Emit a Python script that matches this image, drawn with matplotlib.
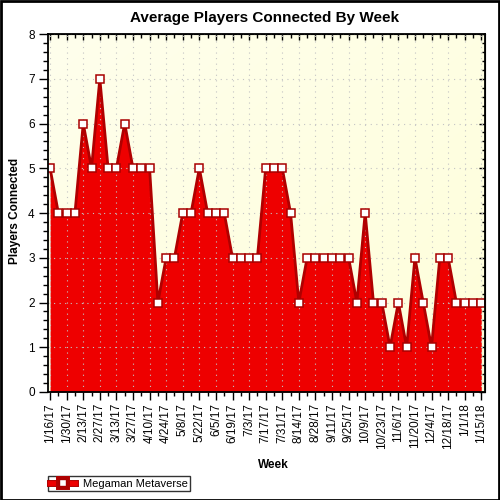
import matplotlib
matplotlib.use("Agg")
import matplotlib.pyplot as plt
import numpy as np
from matplotlib.lines import Line2D
import matplotlib.patheffects as pe
from matplotlib.ticker import MultipleLocator
from matplotlib.colors import LinearSegmentedColormap

plt.rcParams['font.family'] = ['Liberation Sans', 'DejaVu Sans']

tick_labels = ["1/16/17", "1/30/17", "2/13/17", "2/27/17", "3/13/17", "3/27/17", "4/10/17",
               "4/24/17", "5/8/17", "5/22/17", "6/5/17", "6/19/17", "7/3/17", "7/17/17",
               "7/31/17", "8/14/17", "8/28/17", "9/11/17", "9/25/17", "10/9/17", "10/23/17",
               "11/6/17", "11/20/17", "12/4/17", "12/18/17", "1/1/18", "1/15/18"]
players = [5, 4, 4, 4, 6, 5, 7, 5, 5, 6, 5, 5, 5, 2, 3, 3, 4, 4, 5, 4, 4, 4, 3, 3, 3, 3,
           5, 5, 5, 4, 2, 3, 3, 3, 3, 3, 3, 2, 4, 2, 2, 1, 2, 1, 3, 2, 1, 3, 3, 2, 2, 2, 2]
series_name = "Megaman Metaverse"

x = np.arange(len(players))
XMIN, XMAX = -0.25, 52.45

fig = plt.figure(figsize=(5, 5), dpi=100)
ax = fig.add_axes([0.096, 0.216, 0.874, 0.716])

# background gradient
yy, xx = np.mgrid[0:1:64j, 0:1:64j]
grad = (xx + (1 - yy)) / 2
bg = LinearSegmentedColormap.from_list("bg", ["#FEFEEC", "#FFFFDA"])
ax.imshow(grad, aspect='auto', cmap=bg, extent=[XMIN, XMAX, 0, 8], zorder=0,
          interpolation='bilinear', origin='lower')

ax.fill_between(x, players, 0, color="#EE0000", zorder=2, linewidth=0)
ax.plot(x, players, color="#B00000", linewidth=2, zorder=3)
ax.plot(x, players, linestyle='none', marker='s', markersize=5.3,
        markerfacecolor='white', markeredgecolor='#A80000', markeredgewidth=1.1, zorder=4)

ax.set_xlim(XMIN, XMAX)
ax.set_ylim(0, 8)
ax.set_xticks(x[::2])
ax.set_xticklabels(tick_labels, rotation=90, fontsize=8.5)
ax.xaxis.set_minor_locator(MultipleLocator(1))
ax.yaxis.set_major_locator(MultipleLocator(1))
ax.yaxis.set_minor_locator(MultipleLocator(0.2))
ax.tick_params(axis='y', which='major', direction='out', length=6.5, width=1, labelsize=8.5, pad=3)
ax.tick_params(axis='y', which='minor', direction='out', length=3.5, width=1)
ax.tick_params(axis='x', which='major', direction='out', length=6, width=1, labelsize=8.5, pad=2)
ax.tick_params(axis='x', which='minor', direction='out', length=3, width=1)
ax.grid(True, which='major', linestyle=(0, (1, 4)), color='#C4C4C4', linewidth=0.8, zorder=1)
ax.set_axisbelow(False)
for s in ax.spines.values():
    s.set_linewidth(1.3)
    s.set_zorder(5)

# inward ticks on top and right
top = ax.secondary_xaxis('top')
top.set_xticks(x[::2])
top.xaxis.set_minor_locator(MultipleLocator(1))
top.tick_params(which='major', direction='in', length=4, width=1, labeltop=False)
top.tick_params(which='minor', direction='in', length=3, width=1)
right = ax.secondary_yaxis('right')
right.yaxis.set_major_locator(MultipleLocator(1))
right.yaxis.set_minor_locator(MultipleLocator(0.2))
right.tick_params(which='major', direction='in', length=4, width=1, labelright=False)
right.tick_params(which='minor', direction='in', length=2.5, width=1)

fig.text(0.53, 0.964, "Average Players Connected By Week", fontsize=11, fontweight='bold',
         ha='center', va='center')
fig.text(0.031, 0.578, "Players Connected", fontsize=8.5, fontweight='bold',
         ha='center', va='center', rotation=90)
fig.text(0.546, 0.071, "Week", fontsize=8.5, fontweight='bold', ha='center', va='center')

handle = Line2D([0], [0], color="#EE0000", linewidth=3.5, marker='s', markersize=5,
                markerfacecolor='white', markeredgecolor='#A80000', markeredgewidth=1,
                path_effects=[pe.Stroke(linewidth=5, foreground="#B00000"), pe.Normal()])
leg = fig.legend([handle], [series_name], loc='lower left', bbox_to_anchor=(0.096, 0.018),
                 fontsize=8, frameon=True, fancybox=False, edgecolor='black',
                 borderpad=0.22, handlelength=2.2, handletextpad=0.7, borderaxespad=0)
leg.get_frame().set_linewidth(1)
leg.set_zorder(10)

# outer border
fig.patches.append(plt.Rectangle((0.001, 0.001), 0.997, 0.997, transform=fig.transFigure,
                                 fill=False, edgecolor='black', linewidth=2))

fig.savefig("out.png", dpi=100)
